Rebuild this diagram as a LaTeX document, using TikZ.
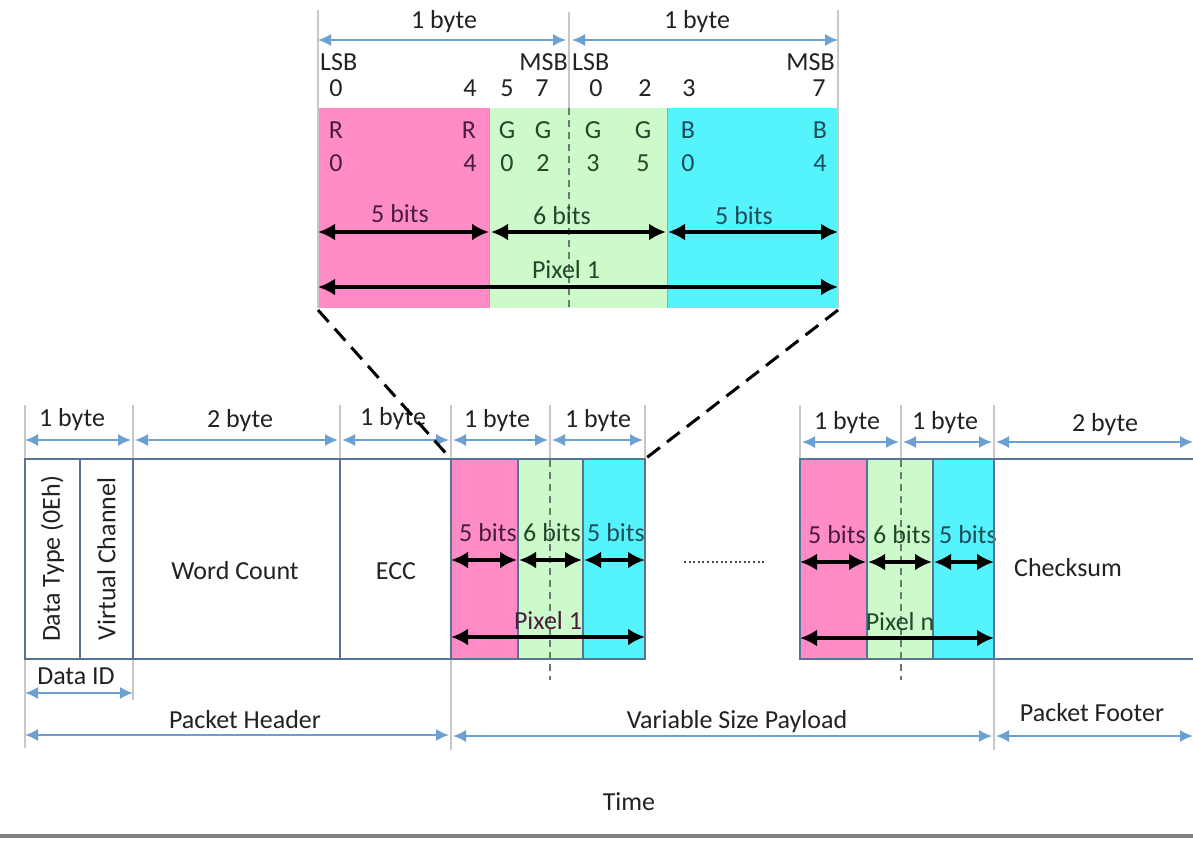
\documentclass[tikz,border=0pt]{standalone}
\usepackage{fontspec}
\setmainfont{Carlito}
\usetikzlibrary{arrows.meta}
\definecolor{pinkc}{HTML}{FF8CC6}
\definecolor{greenc}{HTML}{CDFACB}
\definecolor{cyanc}{HTML}{55F3FC}
\definecolor{boxc}{HTML}{587394}
\definecolor{arrc}{HTML}{6C9FD2}
\definecolor{guidec}{HTML}{C8C8C8}
\definecolor{ptxt}{HTML}{4A1E3A}
\definecolor{gtxt}{HTML}{1F4A2A}
\definecolor{ctxt}{HTML}{1B4F5A}
\definecolor{txtc}{HTML}{222222}
\begin{document}
\begin{tikzpicture}[x=1pt,y=-1pt,
  every node/.style={font=\fontsize{26}{30}\selectfont, inner sep=0pt, text=txtc},
  cell/.style={anchor=north west, inner sep=0pt, outer sep=0pt},
  dimarr/.style={draw=arrc, line width=1.8pt, {Latex[length=13pt,width=12pt]}-{Latex[length=13pt,width=12pt]}},
  bitarr/.style={draw=black, line width=3.4pt, {Latex[length=17pt,width=17pt]}-{Latex[length=17pt,width=17pt]}},
  guide/.style={draw=guidec, line width=1.3pt},
  midline/.style={draw=black!55, line width=1.2pt, dash pattern=on 7pt off 5pt},
  zoomline/.style={draw=black, line width=3pt, dash pattern=on 16pt off 9pt},
  boxline/.style={draw=boxc, line width=2.4pt}]
\useasboundingbox (0,0) rectangle (1193,840);
\fill[white] (0,0) rectangle (1193,840);

% ================= top detail =================
\node[cell, fill=pinkc, minimum width=171pt, minimum height=200pt] (tR) at (318,108) {};
\node[cell, fill=greenc, minimum width=178pt, minimum height=200pt] (tG) at (489,108) {};
\node[cell, fill=cyanc, minimum width=171pt, minimum height=200pt] (tB) at (667,108) {};
\draw[draw=black!35, line width=0.8pt] (tG.north west) -- (tG.south west) (tB.north west) -- (tB.south west);
\coordinate (tl0) at (318,10);
\coordinate (tm0) at (569,12);
\coordinate (tr0) at (838,10);
\draw[guide] (tl0) -- (tR.south west);
\draw[guide] (tr0) -- (tB.south east);
\draw[guide] (tm0) -- (569,108);
\draw[midline] (569,108) -- (569,308);

\node (tb1) at (444,22) {1 byte};
\node (tb2) at (697,22) {1 byte};
\coordinate (ta1) at (318,40); \coordinate (ta2) at (566,40);
\coordinate (ta3) at (572,40); \coordinate (ta4) at (838,40);
\draw[dimarr] (ta1) -- (ta2);
\draw[dimarr] (ta3) -- (ta4);

\node[anchor=west] (lsb1) at (320,62) {LSB};
\node[anchor=east] (msb1) at (568,62) {MSB};
\node[anchor=west] (lsb2) at (572,62) {LSB};
\node[anchor=east] (msb2) at (835,62) {MSB};
\foreach \x/\t [count=\i] in {336/0,470/4,507/5,542/7,596/0,645/2,689/3,819/7}
  \node (d\i) at (\x,88) {\t};

\node[text=ptxt] (r1) at (336,130) {R};
\node[text=ptxt] (r2) at (469,130) {R};
\node[text=gtxt] (g1) at (507,130) {G};
\node[text=gtxt] (g2) at (543,130) {G};
\node[text=gtxt] (g3) at (593,130) {G};
\node[text=gtxt] (g4) at (643,130) {G};
\node[text=ctxt] (b1) at (688,130) {B};
\node[text=ctxt] (b2) at (820,130) {B};
\node[text=ptxt] (r1n) at (336,163) {0};
\node[text=ptxt] (r2n) at (470,163) {4};
\node[text=gtxt] (g1n) at (507,163) {0};
\node[text=gtxt] (g2n) at (543,163) {2};
\node[text=gtxt] (g3n) at (593,163) {3};
\node[text=gtxt] (g4n) at (643,163) {5};
\node[text=ctxt] (b1n) at (688,163) {0};
\node[text=ctxt] (b2n) at (820,163) {4};

\node[text=ptxt] (tl5) at (400,214) {5 bits};
\node[text=gtxt] (tl6) at (562,216) {6 bits};
\node[text=ctxt] (tl5b) at (744,216) {5 bits};
\coordinate (tba1) at (318,232); \coordinate (tba2) at (489,232);
\coordinate (tba3) at (491,232); \coordinate (tba4) at (666,232);
\coordinate (tba5) at (668,232); \coordinate (tba6) at (838,232);
\draw[bitarr] (tba1) -- (tba2);
\draw[bitarr] (tba3) -- (tba4);
\draw[bitarr] (tba5) -- (tba6);
\node[text=gtxt] (tpx) at (566,270) {Pixel 1};
\coordinate (tpa1) at (318,287); \coordinate (tpa2) at (838,287);
\draw[bitarr] (tpa1) -- (tpa2);

% ================= packet =================
% guides
\coordinate (gA) at (25,405); \coordinate (gAe) at (25,748);
\coordinate (gB) at (133,405); \coordinate (gBe) at (133,700);
\coordinate (gC) at (340,405);
\coordinate (gD) at (451,405); \coordinate (gDe) at (451,750);
\coordinate (gE) at (645,405);
\coordinate (gF) at (800,405);
\coordinate (gG) at (994,405); \coordinate (gGe) at (994,750);
\draw[guide] (gA) -- (gAe);
\draw[guide] (gB) -- (gBe);
\draw[guide] (gC) -- (340,460);
\draw[guide] (gD) -- (gDe);
\draw[guide] (gE) -- (645,460);
\draw[guide] (gF) -- (800,460);
\draw[guide] (gG) -- (gGe);
\draw[guide] (550,405) -- (550,460);
\draw[guide] (901,405) -- (901,460);

% header cells
\node[cell, boxline, minimum width=55pt, minimum height=200pt] (dt) at (25,459) {};
\node[cell, boxline, minimum width=53pt, minimum height=200pt] (vc) at (80,459) {};
\node[cell, boxline, minimum width=207pt, minimum height=200pt] (wc) at (133,459) {};
\node[cell, boxline, minimum width=111pt, minimum height=200pt] (ecc) at (340,459) {};
\node[rotate=90] (dtt) at (dt.center) {Data Type (0Eh)};
\node[rotate=90] (vct) at (vc.center) {Virtual Channel};
\node (wct) at (235,571) {Word Count};
\node (ecct) at (396,571) {ECC};

% pixel 1 cells
\node[cell, fill=pinkc, boxline, minimum width=67pt, minimum height=200pt] (p1r) at (451,459) {};
\node[cell, fill=greenc, boxline, minimum width=65pt, minimum height=200pt] (p1g) at (518,459) {};
\node[cell, fill=cyanc, boxline, minimum width=62pt, minimum height=200pt] (p1b) at (583,459) {};
\draw[midline] (550,460) -- (550,680);
% pixel n cells
\node[cell, fill=pinkc, boxline, minimum width=67pt, minimum height=200pt] (pnr) at (800,459) {};
\node[cell, fill=greenc, boxline, minimum width=66pt, minimum height=200pt] (png) at (867,459) {};
\node[cell, fill=cyanc, boxline, minimum width=61pt, minimum height=200pt] (pnb) at (933,459) {};
\draw[midline] (901,460) -- (901,680);

% pixel 1 labels
\node[text=ptxt] (l1a) at (488,533) {5 bits};
\node[text=gtxt] (l1b) at (552,533) {6 bits};
\node[text=ctxt] (l1c) at (616,533) {5 bits};
\coordinate (a11) at (451,560); \coordinate (a12) at (517,560);
\coordinate (a13) at (519,560); \coordinate (a14) at (582,560);
\coordinate (a15) at (584,560); \coordinate (a16) at (645,560);
\draw[bitarr] (a11) -- (a12);
\draw[bitarr] (a13) -- (a14);
\draw[bitarr] (a15) -- (a16);
\node[text=ptxt] (px1) at (548,621) {Pixel 1};
\coordinate (pa1) at (451,637); \coordinate (pa2) at (645,637);
\draw[bitarr] (pa1) -- (pa2);

% pixel n labels
\node[text=ptxt] (lna) at (837,535) {5 bits};
\node[text=gtxt] (lnb) at (902,535) {6 bits};
\node[text=ctxt] (lnc) at (968,535) {5 bits};
\coordinate (an1) at (800,562); \coordinate (an2) at (866,562);
\coordinate (an3) at (868,562); \coordinate (an4) at (932,562);
\coordinate (an5) at (934,562); \coordinate (an6) at (994,562);
\draw[bitarr] (an1) -- (an2);
\draw[bitarr] (an3) -- (an4);
\draw[bitarr] (an5) -- (an6);
\node[text=gtxt] (pxn) at (900,622) {Pixel n};
\coordinate (pn1) at (800,638); \coordinate (pn2) at (994,638);
\draw[bitarr] (pn1) -- (pn2);

% checksum
\fill[white] (996,459) rectangle (1193,659);
\draw[boxline] (1193,459) -- (994,459) -- (994,659) -- (1193,659);
\node (cks) at (1068,568) {Checksum};

% dotted
\coordinate (dot1) at (684,562); \coordinate (dot2) at (766,562);
\draw[draw=black!70, line width=1.6pt, dash pattern=on 2pt off 2.6pt] (dot1) -- (dot2);

% byte labels
\node (h1) at (72,420) {1 byte};
\node (h2) at (240,421) {2 byte};
\node (h3) at (393,419) {1 byte};
\node (h4) at (497,421) {1 byte};
\node (h5) at (598,421) {1 byte};
\node (h6) at (847,423) {1 byte};
\node (h7) at (945,423) {1 byte};
\node (h8) at (1105,425) {2 byte};
\coordinate (b1a) at (25,440); \coordinate (b1b) at (131,440);
\coordinate (b2a) at (135,440); \coordinate (b2b) at (338,440);
\coordinate (b3a) at (342,440); \coordinate (b3b) at (449,440);
\coordinate (b4a) at (453,440); \coordinate (b4b) at (548,440);
\coordinate (b5a) at (552,440); \coordinate (b5b) at (643,440);
\coordinate (b6a) at (802,442); \coordinate (b6b) at (899,442);
\coordinate (b7a) at (903,442); \coordinate (b7b) at (992,442);
\coordinate (b8a) at (996,442); \coordinate (b8b) at (1193,442);
\draw[dimarr] (b1a) -- (b1b);
\draw[dimarr] (b2a) -- (b2b);
\draw[dimarr] (b3a) -- (b3b);
\draw[dimarr] (b4a) -- (b4b);
\draw[dimarr] (b5a) -- (b5b);
\draw[dimarr] (b6a) -- (b6b);
\draw[dimarr] (b7a) -- (b7b);
\draw[dimarr] (b8a) -- (b8b);

% zoom lines
\coordinate (z1) at (318,310); \coordinate (z2) at (838,310);
\draw[zoomline] (z1) -- (p1r.north west);
\draw[zoomline] (z2) -- (p1b.north east);

% lower labels
\node (did) at (76,676) {Data ID};
\coordinate (di1) at (25,693); \coordinate (di2) at (133,693);
\draw[dimarr] (di1) -- (di2);
\node (ph) at (245,720) {Packet Header};
\node (vsp) at (737,722) {Variable Size Payload};
\node (pf) at (1092,713) {Packet Footer};
\coordinate (ph1) at (25,735); \coordinate (ph2) at (449,735);
\coordinate (vs1) at (453,736); \coordinate (vs2) at (992,736);
\coordinate (pf1) at (996,736); \coordinate (pf2) at (1193,736);
\draw[dimarr] (ph1) -- (ph2);
\draw[dimarr] (vs1) -- (vs2);
\draw[dimarr] (pf1) -- (pf2);

\node (time) at (629,802) {Time};
\coordinate (bl1) at (0,836); \coordinate (bl2) at (1193,836);
\draw[draw=black!50, line width=4pt] (bl1) -- (bl2);
\end{tikzpicture}
\end{document}
